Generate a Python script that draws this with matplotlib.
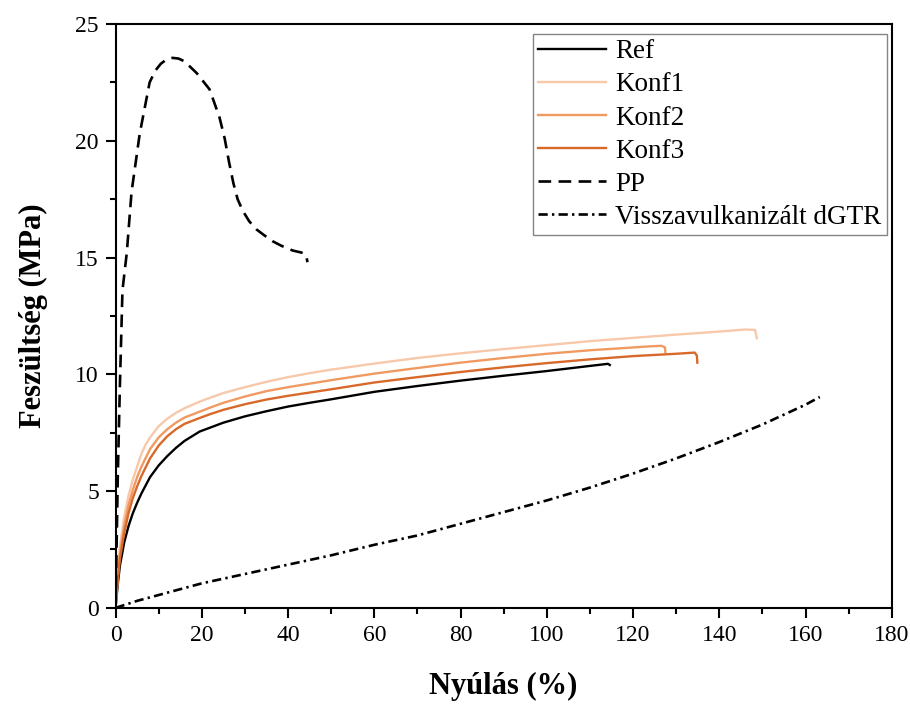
import matplotlib
matplotlib.use("Agg")
import matplotlib.pyplot as plt
from matplotlib.ticker import MultipleLocator

plt.rcParams['font.family'] = ['Liberation Serif', 'DejaVu Serif']

# values (strain %, stress MPa)
ref_x = [0, 0.5, 1, 2, 3, 4, 5, 6, 8, 10, 12, 14, 16, 19.5, 25, 30, 35, 40, 45, 50, 60, 70, 80, 90, 100, 110, 114.2, 114.6]
ref_y = [0, 1.0, 1.8, 2.8, 3.5, 4.05, 4.5, 4.9, 5.6, 6.1, 6.5, 6.85, 7.15, 7.55, 7.93, 8.2, 8.42, 8.62, 8.78, 8.93, 9.25, 9.5, 9.73, 9.94, 10.14, 10.36, 10.45, 10.4]

k1_x = [0, 0.5, 1, 2, 3, 4, 5, 6, 7, 8, 10, 12, 14, 16, 19.5, 22, 25, 30, 35, 40, 45, 50, 60, 70, 80, 90, 100, 110, 120, 130, 140, 146, 148.3, 148.7]
k1_y = [0, 1.5, 2.6, 3.9, 4.8, 5.5, 6.05, 6.6, 7.0, 7.3, 7.78, 8.1, 8.35, 8.55, 8.83, 9.0, 9.2, 9.45, 9.68, 9.88, 10.05, 10.2, 10.46, 10.7, 10.9, 11.08, 11.25, 11.42, 11.56, 11.7, 11.83, 11.92, 11.9, 11.55]

k2_x = [0, 0.5, 1, 2, 3, 4, 5, 6, 8, 10, 12, 14, 16, 19.5, 22, 25, 30, 35, 40, 45, 50, 60, 70, 80, 90, 100, 110, 120, 124, 126.6, 127.4, 127.5]
k2_y = [0, 1.3, 2.3, 3.5, 4.4, 5.05, 5.6, 6.05, 6.8, 7.3, 7.65, 7.93, 8.15, 8.4, 8.58, 8.78, 9.05, 9.28, 9.45, 9.6, 9.75, 10.03, 10.27, 10.5, 10.7, 10.88, 11.03, 11.15, 11.2, 11.22, 11.15, 10.95]

k3_x = [0, 0.5, 1, 2, 3, 4, 5, 6, 8, 10, 12, 14, 16, 19.5, 22, 25, 30, 35, 40, 45, 50, 60, 70, 80, 90, 100, 110, 120, 130, 134.3, 134.8, 134.9]
k3_y = [0, 1.2, 2.1, 3.2, 4.05, 4.7, 5.2, 5.65, 6.4, 6.95, 7.35, 7.65, 7.88, 8.13, 8.3, 8.48, 8.72, 8.92, 9.08, 9.22, 9.36, 9.65, 9.88, 10.1, 10.3, 10.48, 10.64, 10.78, 10.88, 10.93, 10.8, 10.5]

pp_x = [0, 0.5, 1, 1.6, 2.6, 3.7, 5.6, 7.9, 9.2, 10.5, 11.8, 13.2, 14.6, 16, 18.8, 21.8, 24.1, 25.3, 26.3, 27.3, 28.3, 29.5, 31, 32.7, 34.5, 36.4, 38.5, 41.1, 43.4, 44.2, 44.5]
pp_y = [0, 5.5, 9.5, 13.6, 15.2, 17.8, 20.3, 22.5, 23.0, 23.3, 23.48, 23.55, 23.52, 23.4, 22.9, 22.2, 21.0, 20.1, 19.1, 18.2, 17.5, 17.0, 16.55, 16.2, 15.95, 15.7, 15.5, 15.3, 15.2, 15.1, 14.8]

dgtr_x = [0, 5, 10, 20, 30, 40, 50, 60, 70, 80, 90, 100, 110, 120, 130, 140, 150, 160, 163.3]
dgtr_y = [0, 0.3, 0.55, 1.05, 1.45, 1.85, 2.25, 2.7, 3.1, 3.6, 4.1, 4.6, 5.15, 5.75, 6.4, 7.1, 7.85, 8.7, 9.03]

fig = plt.figure(figsize=(9.1, 7.06), dpi=100)
ax = fig.add_axes([0.127, 0.139, 0.853, 0.827])

ax.plot(ref_x, ref_y, color='black', lw=1.7, label='Ref')
ax.plot(k1_x, k1_y, color='#f7c8aa', lw=1.7, label='Konf1')
ax.plot(k2_x, k2_y, color='#f09a62', lw=1.7, label='Konf2')
ax.plot(k3_x, k3_y, color='#d8692a', lw=1.7, label='Konf3')
ax.plot(pp_x, pp_y, color='black', lw=1.9, ls=(0, (4.8, 2.8)), label='PP')
ax.plot(dgtr_x, dgtr_y, color='black', lw=1.9, ls=(0, (3.5, 1.6, 0.9, 1.6)), label='Visszavulkanizált dGTR')

ax.set_xlim(0, 180)
ax.set_ylim(0, 25)
ax.xaxis.set_major_locator(MultipleLocator(20))
ax.xaxis.set_minor_locator(MultipleLocator(10))
ax.yaxis.set_major_locator(MultipleLocator(5))
ax.yaxis.set_minor_locator(MultipleLocator(2.5))
ax.tick_params(which='major', length=7, width=1.5, direction='out', labelsize=17, pad=5)
ax.tick_params(which='minor', length=4, width=1.5, direction='out')
for s in ax.spines.values():
    s.set_linewidth(1.5)

ax.set_xlabel('Nyúlás (%)', fontsize=22, fontweight='bold', labelpad=19)
ax.set_ylabel('Feszültség (MPa)', fontsize=22, fontweight='bold', labelpad=20)

leg = ax.legend(loc='upper right', fontsize=19.5, frameon=True, fancybox=False,
                edgecolor='#666666', handlelength=2.5, handletextpad=0.35,
                labelspacing=0.3, borderpad=0.2, borderaxespad=0,
                bbox_to_anchor=(0.9936, 0.983))
leg.get_frame().set_linewidth(1.0)

fig.savefig('out.png', dpi=100)
